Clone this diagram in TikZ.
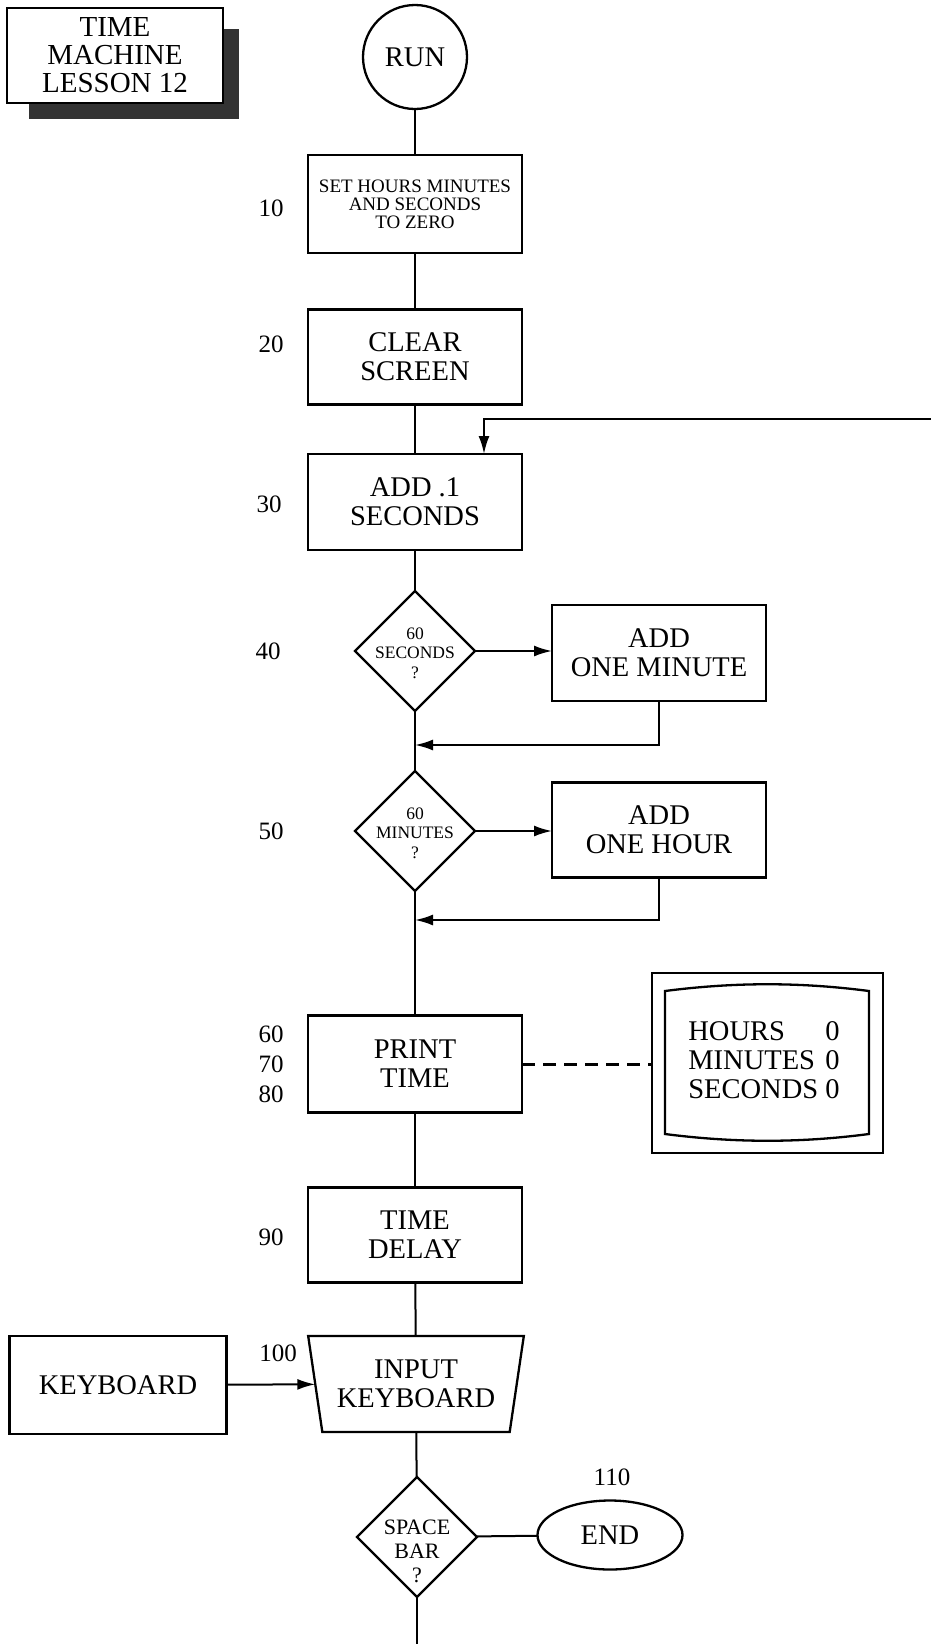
\documentclass[tikz,border=0pt]{standalone}
\usepackage{fontspec}
\setmainfont{Liberation Serif}
\usetikzlibrary{shapes.geometric,arrows.meta}
\begin{document}
\begin{tikzpicture}[x=1pt,y=-1pt,
  every node/.style={inner sep=0pt, outer sep=0pt},
  line/.style={line width=2pt},
  arr/.style={line width=2pt,-{Latex[length=18pt,width=11pt]}},
  shapeline/.style={draw, line width=2.3pt},
  pbox/.style={shapeline, rectangle, minimum width=214pt, minimum height=96pt, align=center, font=\fontsize{28.5}{29}\selectfont},
  dia/.style={shapeline, diamond, minimum width=120pt, minimum height=120pt},
  dtext/.style={align=center, font=\fontsize{17.5}{19.5}\selectfont},
  num/.style={align=center, font=\fontsize{25}{30}\selectfont},
  big/.style={font=\fontsize{28.5}{29}\selectfont},
]
\useasboundingbox (0,0) rectangle (931,1644);

% title with shadow
\fill[black!80] (29,29) rectangle (239,119);
\node[shapeline, fill=white, line width=2pt, minimum width=216pt, minimum height=95pt, align=center, font=\fontsize{29}{28}\selectfont] (title) at (115,55) {TIME\\MACHINE\\LESSON 12};

% main column
\node[shapeline, circle, minimum size=104pt, big] (run) at (415,57) {RUN};
\node[pbox, minimum height=98pt, font=\fontsize{19}{18}\selectfont] (set) at (415,204) {SET HOURS MINUTES\\AND SECONDS\\TO ZERO};
\node[pbox, minimum height=95pt] (clear) at (415,357) {CLEAR\\SCREEN};
\node[pbox] (add1) at (415,502) {ADD .1\\SECONDS};
\node[dia] (d40) at (415,651) {};
\node[dtext] (d40t) at (415,653) {60\\SECONDS\\?};
\node[pbox] (m1) at (659,653) {ADD\\ONE MINUTE};
\node[dia] (d50) at (415,831) {};
\node[dtext] (d50t) at (415,833) {60\\MINUTES\\?};
\node[pbox, minimum height=95pt] (h1) at (659,830) {ADD\\ONE HOUR};
\node[pbox, minimum height=97pt] (print) at (415,1064) {PRINT\\TIME};

% monitor
\node[shapeline, minimum width=231pt, minimum height=180pt] (mon) at (767.5,1063) {};
\draw[line width=2.3pt] (665,991) .. controls (735,982) and (800,982) .. (869,991)
  -- (869,1134) .. controls (800,1143) and (735,1143) .. (665,1134) -- cycle;
\node[big] (scr) at (764,1064) {\begin{tabular}{@{}l@{\ }l@{}}HOURS&0\\MINUTES&0\\SECONDS&0\end{tabular}};

\node[pbox, minimum height=95pt] (delay) at (415,1235) {TIME\\DELAY};
\node[shapeline, trapezium, shape border rotate=180, trapezium left angle=76, trapezium right angle=76,
  trapezium stretches=true, minimum width=216pt, minimum height=96pt, align=center,
  font=\fontsize{28.5}{29}\selectfont] (inp) at (416,1384) {INPUT\\KEYBOARD};
\node[pbox, minimum width=217pt, minimum height=98pt] (kb) at (118,1385) {KEYBOARD};
\node[dia] (d110) at (417,1537) {};
\node[dtext, font=\fontsize{22}{24}\selectfont] (d110t) at (417,1551) {SPACE\\BAR\\?};
\node[shapeline, ellipse, minimum width=145pt, minimum height=69pt, big] (end) at (610,1535) {END};

% line numbers
\node[num] (n10) at (271,208) {10};
\node[num] (n20) at (271,344) {20};
\node[num] (n30) at (269,504) {30};
\node[num] (n40) at (268,651) {40};
\node[num] (n50) at (271,831) {50};
\node[num] (n60) at (271,1064) {60\\70\\80};
\node[num] (n90) at (271,1237) {90};
\node[num] (n100) at (278,1353) {100};
\node[num] (n110) at (612,1477) {110};

% connectors
\coordinate (fbR) at (931,419);
\coordinate (fbC) at (484,419);
\coordinate (j1) at (415,745);
\coordinate (j2) at (415,920);
\coordinate (bot) at (417,1644);

\draw[line] (run) -- (set);
\draw[line] (set) -- (clear);
\draw[line] (clear) -- (add1);
\draw[arr] (fbR) -- (fbC) -- (fbC |- add1.north);
\draw[line] (add1) -- (d40);
\draw[arr] (d40.east) -- (d40.east -| m1.west);
\draw[arr] (m1.south) |- (j1);
\draw[line] (d40) -- (d50);
\draw[arr] (d50.east) -- (d50.east -| h1.west);
\draw[arr] (h1.south) |- (j2);
\draw[line] (d50) -- (print);
\draw[line width=3pt, dash pattern=on 13pt off 8pt] (print.east) -- (print.east -| mon.west);
\draw[line] (print) -- (delay);
\draw[line] (delay) -- (inp);
\draw[arr] (kb) -- (inp);
\draw[line] (inp) -- (d110);
\draw[line] (d110) -- (end);
\draw[line] (d110) -- (bot);
\end{tikzpicture}
\end{document}
